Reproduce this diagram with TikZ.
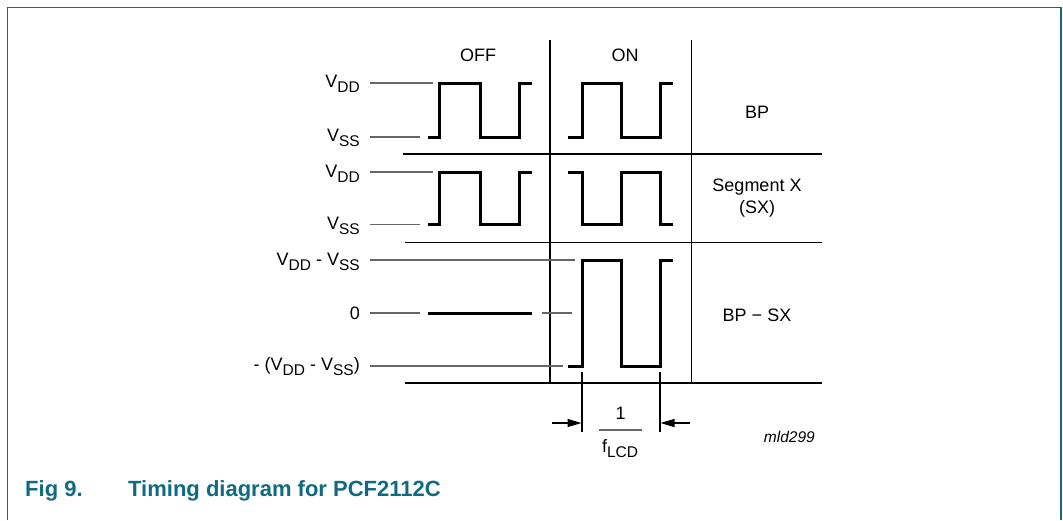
\documentclass[tikz,border=0pt]{standalone}
\usepackage{fontspec}
\setmainfont{Liberation Sans}
\usetikzlibrary{arrows.meta}
\definecolor{nxp}{RGB}{16,106,128}
\newcommand{\sbs}[1]{\raisebox{-0.3em}{\fontsize{15.5}{15.5}\selectfont #1}}
\begin{document}
\begin{tikzpicture}[x=1pt,y=-1pt,
  lbl/.style={font=\fontsize{18}{21.5}\selectfont, inner sep=0pt},
  reftick/.style={line width=1.2pt, draw=black!60},
  wave/.style={line width=3pt, line join=miter},
  gridline/.style={line width=1.3pt, draw=black},
  dimarrow/.style={line width=1.2pt, -{Triangle[length=14pt,width=8pt]}}]
\useasboundingbox (0,0) rectangle (1063,520);
% frame
\draw[nxp, line width=1.6pt] (7.5,520) -- (7.5,7.5) -- (1061,7.5) -- (1061,520);
% grid
\draw[gridline] (550,40) -- (550,383);
\draw[gridline] (691.5,40) -- (691.5,383);
\draw[gridline] (403,154) -- (822,154);
\draw[gridline] (405,242.5) -- (822,242.5);
\draw[gridline] (405,383) -- (822,383);
% headers
\node[lbl] (off) at (478,55) {OFF};
\node[lbl] (on) at (625,55) {ON};
\node[lbl] (bp) at (757,112) {BP};
\node[lbl, align=center] (sx) at (757,198) {Segment X\\(SX)};
\node[lbl] (bpsx) at (757,315) {BP − SX};
% row 1 labels
\node[lbl, anchor=base east] (l1) at (360,87) {V\sbs{DD}};
\node[lbl, anchor=base east] (l2) at (360,141) {V\sbs{SS}};
\draw[reftick] (370,83) -- (433,83);
\draw[reftick] (370,137) -- (420,137);
\draw[wave] (428,137) -- (439,137) -- (439,83) -- (480.5,83) -- (480.5,137) -- (519,137) -- (519,83) -- (532,83);
\draw[wave] (568,137) -- (582,137) -- (582,83) -- (621,83) -- (621,137) -- (660,137) -- (660,83) -- (673,83);
% row 2
\node[lbl, anchor=base east] (l3) at (360,177) {V\sbs{DD}};
\node[lbl, anchor=base east] (l4) at (360,229) {V\sbs{SS}};
\draw[reftick] (370,172) -- (433,172);
\draw[reftick] (370,224.5) -- (420,224.5);
\draw[wave] (428,224.5) -- (439,224.5) -- (439,172) -- (480.5,172) -- (480.5,224.5) -- (519,224.5) -- (519,172) -- (532,172);
\draw[wave] (568,172) -- (582,172) -- (582,224.5) -- (621,224.5) -- (621,172) -- (660,172) -- (660,224.5) -- (673,224.5);
% row 3
\node[lbl, anchor=base east] (l5) at (360,265) {V\sbs{DD} - V\sbs{SS}};
\node[lbl, anchor=base east] (l6) at (360,319.5) {0};
\node[lbl, anchor=base east] (l7) at (360,370) {- (V\sbs{DD} - V\sbs{SS})};
\draw[reftick] (370,260) -- (575,260);
\draw[reftick] (370,313) -- (420,313);
\draw[wave] (428,313) -- (532,313);
\draw[reftick] (541.5,313) -- (572,313);
\draw[reftick] (370,366) -- (563,366);
\draw[wave] (568,366) -- (582,366) -- (582,260) -- (621,260) -- (621,366) -- (660,366) -- (660,260) -- (673,260);
% dimension
\draw[line width=1.2pt] (582,372) -- (582,432);
\draw[line width=1.2pt] (660,372) -- (660,432);
\coordinate (dl) at (552,423);
\coordinate (dlt) at (581.5,423);
\coordinate (dr) at (690,423);
\coordinate (drt) at (660.5,423);
\draw[dimarrow] (dl) -- (dlt);
\draw[dimarrow] (dr) -- (drt);
\node[lbl] (one) at (620.5,413) {1};
\draw[line width=1.2pt, black!60] (599,430) -- (642,430);
\node[lbl, anchor=base] (flcd) at (620,452) {f\sbs{LCD}};
\node[lbl, font=\fontsize{15.5}{18}\selectfont\itshape, anchor=east] (mld) at (815,437) {mld299};
% caption
\node[inner sep=0pt, anchor=base west, text=nxp, font=\fontsize{22}{25}\selectfont\bfseries] (fig) at (25,496) {Fig 9.};
\node[inner sep=0pt, anchor=base west, text=nxp, font=\fontsize{22}{25}\selectfont\bfseries] (cap) at (128,496) {Timing diagram for PCF2112C};
\end{tikzpicture}
\end{document}
